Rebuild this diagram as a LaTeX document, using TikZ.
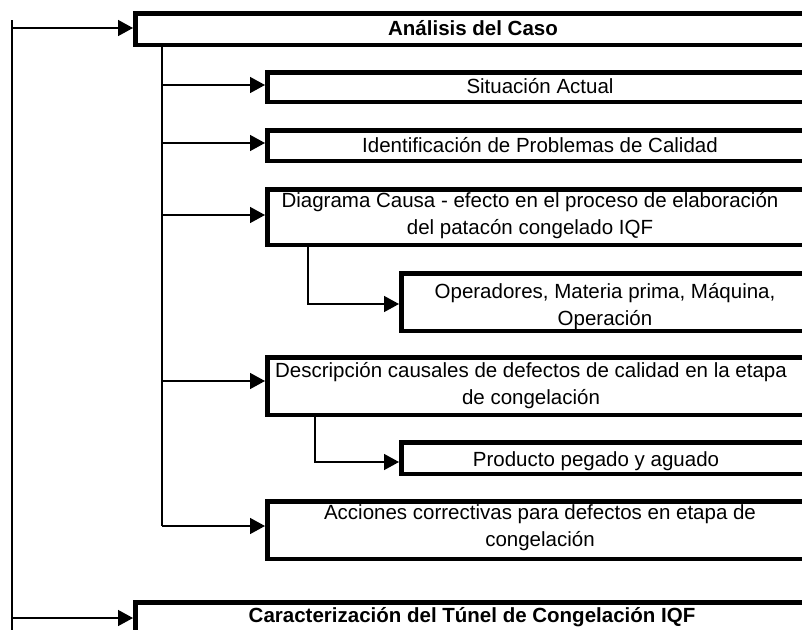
\documentclass[tikz,border=0pt]{standalone}
\usepackage{fontspec}
\setmainfont{Liberation Sans}
\usetikzlibrary{arrows.meta}
\begin{document}
\begin{tikzpicture}[x=1pt,y=-1pt,
  box/.style={draw, line width=4.5pt, fill=white, inner sep=0pt, anchor=north west},
  lbl/.style={font=\fontsize{20.5}{27}\selectfont, align=center, inner sep=0pt},
  blbl/.style={font=\fontsize{20.5}{27}\selectfont\bfseries, align=center, inner sep=0pt},
  conn/.style={line width=1.5pt},
  arr/.style={conn, -{Triangle[length=15pt,width=16pt]}}]
\useasboundingbox (0,0) rectangle (802,629);
\clip (0,0) rectangle (802,629);
% boxes
\node[box, minimum width=700pt, minimum height=31.5pt] (b1) at (133,11) {};
\node[box, minimum width=575pt, minimum height=29.5pt] (b2) at (265,70) {};
\node[box, minimum width=575pt, minimum height=30.5pt] (b3) at (265,128) {};
\node[box, minimum width=575pt, minimum height=55.5pt] (b4) at (265,187) {};
\node[box, minimum width=440pt, minimum height=57.5pt] (b5) at (399,271) {};
\node[box, minimum width=575pt, minimum height=57.5pt] (b6) at (265,355) {};
\node[box, minimum width=440pt, minimum height=31.5pt] (b7) at (399,440) {};
\node[box, minimum width=575pt, minimum height=57.5pt] (b8) at (265,499) {};
\node[box, minimum width=700pt, minimum height=60pt] (b9) at (133,600) {};
% labels
\node[blbl] (t1) at (473,28) {Análisis del Caso};
\node[lbl] (t2) at (540,86) {Situación Actual};
\node[lbl] (t3) at (540,145) {Identificación de Problemas de Calidad};
\node[lbl] (t4) at (530,216) {Diagrama Causa - efecto en el proceso de elaboración\\del patacón congelado IQF};
\node[lbl] (t5) at (605,307) {Operadores, Materia prima, Máquina,\\Operación};
\node[lbl] (t6) at (531,386) {Descripción causales de defectos de calidad en la etapa\\de congelación};
\node[lbl] (t7) at (596,461) {Producto pegado y aguado};
\node[lbl] (t8) at (540,528) {Acciones correctivas para defectos en etapa de\\congelación};
\node[blbl] (t9) at (472,617) {Caracterización del Túnel de Congelación IQF};
% outer connectors
\coordinate (o0) at (12,20);
\coordinate (o1) at (12,28);
\coordinate (o2) at (12,618);
\coordinate (oEnd) at (12,640);
\draw[conn] (o0) -- (oEnd);
\draw[arr] (o1) -- (o1 -| b1.west);
\draw[arr] (o2) -- (o2 -| b9.west);
% inner connectors
\coordinate (i1) at (162,85);
\coordinate (i2) at (162,143);
\coordinate (i3) at (162,215);
\coordinate (i4) at (162,381);
\coordinate (i5) at (162,526);
\draw[conn] (i5 |- b1.south) -- (i5);
\draw[arr] (i1) -- (i1 -| b2.west);
\draw[arr] (i2) -- (i2 -| b3.west);
\draw[arr] (i3) -- (i3 -| b4.west);
\draw[arr] (i4) -- (i4 -| b6.west);
\draw[arr] (i5) -- (i5 -| b8.west);
% sub connectors
\coordinate (s1) at (308,304);
\coordinate (s2) at (315,462);
\draw[arr] (s1 |- b4.south) -- (s1) -- (s1 -| b5.west);
\draw[arr] (s2 |- b6.south) -- (s2) -- (s2 -| b7.west);
\end{tikzpicture}
\end{document}
